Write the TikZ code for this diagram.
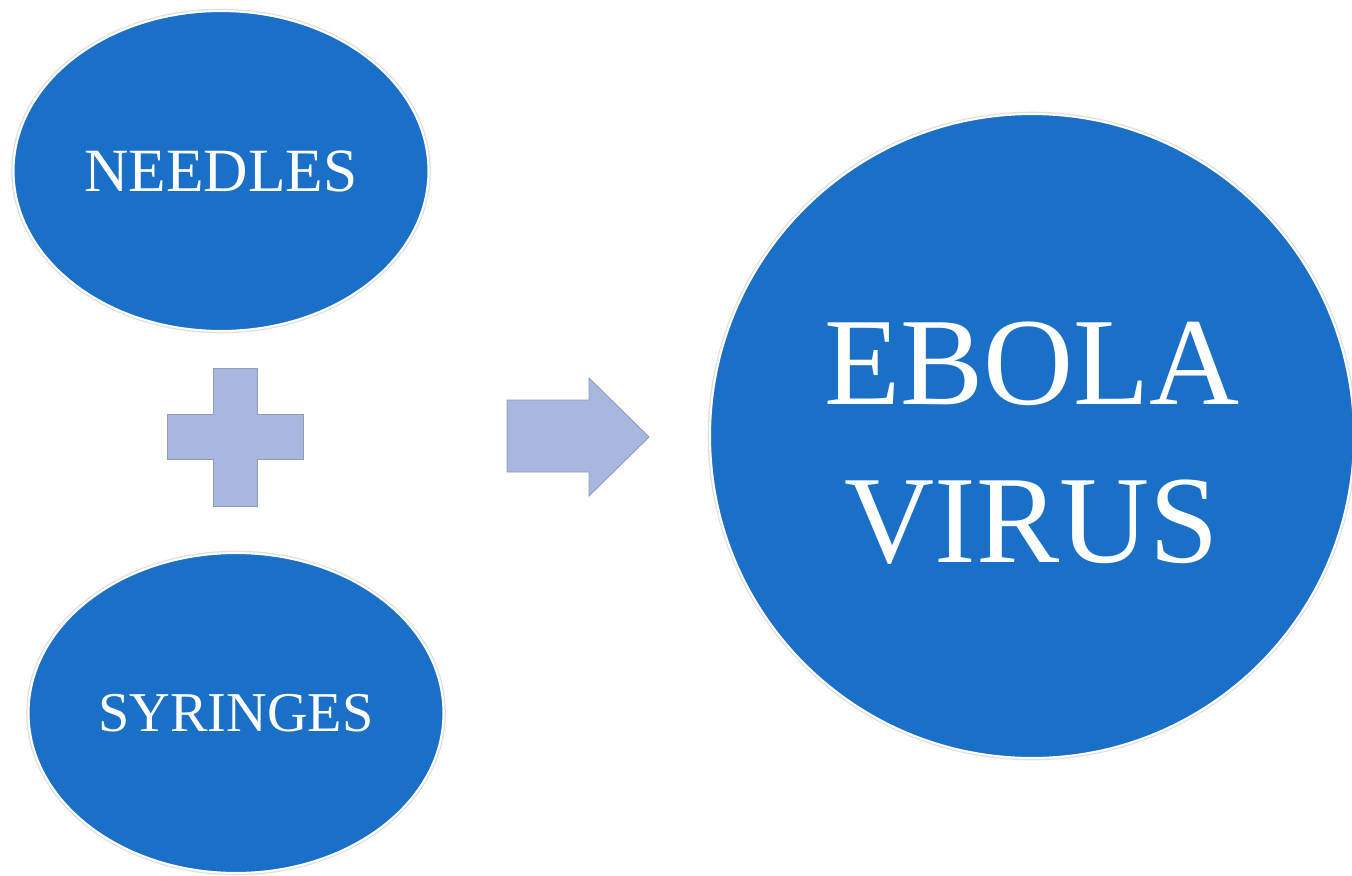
\documentclass[tikz,border=0pt]{standalone}
\usepackage{fontspec}
\setmainfont{Liberation Serif}
\usepackage{tikz}
\usetikzlibrary{shapes,positioning,calc}
\usepackage{xcolor}
\definecolor{ballblue}{HTML}{1A6FC6}
\definecolor{signfill}{HTML}{A7B7DD}
\definecolor{signline}{HTML}{8F9DBA}

\begin{document}
\begin{tikzpicture}[node distance=10.84cm]
		% 定义形状
		\tikzstyle{ball} = [ellipse, fill=ballblue, draw=white, line width=1.2pt, preaction={draw=gray!25, line width=2.6pt}, text=white, minimum width=8.3cm, minimum height=6.4cm, font=\fontsize{35}{40}\selectfont]	% 定义椭圆
		\tikzstyle{bigball} = [circle, fill=ballblue, draw=white, line width=1.2pt, preaction={draw=gray!25, line width=2.6pt}, minimum size=12.88cm]	% 定义大圆
		\tikzstyle{bigtext} = [text=white, align=center, font=\fontsize{71}{90}\selectfont]	% 定义大字
		\tikzstyle{sign} = [fill=signfill, draw=signline, line width=0.5pt]	% 定义加号和箭头
		\useasboundingbox[fill=white] (0,0) rectangle (27.04,-17.52);
		\node (needles) [ball] at (4.42,-3.42) {NEEDLES};
		\node (syringes) [ball, below of=needles, xshift=0.3cm, font=\fontsize{32}{40}\selectfont] {SYRINGES};
		\node (ebola) [bigball, right of=needles, xshift=5.38cm, yshift=-5.3cm, label={[bigtext, yshift=-0.15cm]center:EBOLA\\VIRUS}] {};
		
		% 加号和箭头
		\draw [sign] (4.26,-7.36) -- (5.14,-7.36) -- (5.14,-8.28) -- (6.06,-8.28) -- (6.06,-9.18) -- (5.14,-9.18) -- (5.14,-10.12) -- (4.26,-10.12) -- (4.26,-9.18) -- (3.34,-9.18) -- (3.34,-8.28) -- (4.26,-8.28) -- cycle;
		\draw [sign] (10.14,-8.0) -- (11.78,-8.0) -- (11.78,-7.56) -- (12.98,-8.74) -- (11.78,-9.92) -- (11.78,-9.44) -- (10.14,-9.44) -- cycle;
	\end{tikzpicture}
\end{document}
